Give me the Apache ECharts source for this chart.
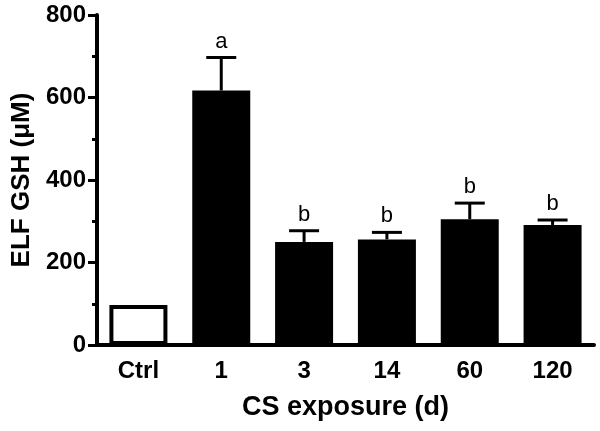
<!DOCTYPE html>
<html>
<head>
<meta charset="utf-8">
<script src="https://cdn.jsdelivr.net/npm/echarts@6/dist/echarts.min.js"></script>
<style>
  html, body { margin: 0; padding: 0; background: #fff; }
  #main { width: 600px; height: 431px; }
</style>
</head>
<body>
<div id="main"></div>
<script>
// data
var categories = ['Ctrl', '1', '3', '14', '60', '120'];
var gshMean = [97, 617, 250, 256, 305, 291];
var gshSem = [0, 80, 27, 17, 39, 12];
var letters = ['', 'a', 'b', 'b', 'b', 'b'];
var yTicks = [0, 200, 400, 600, 800];

var FONT = 'Liberation Sans, Arial, sans-serif';

var chart = echarts.init(document.getElementById('main'));

var barData = gshMean.map(function (v, i) {
  if (i === 0) {
    return { value: v, itemStyle: { color: '#fff', borderColor: '#000', borderWidth: 4 } };
  }
  return v;
});

var errData = gshMean.map(function (v, i) {
  return [i, v, v + gshSem[i]];
});

var option = {
  animation: false,
  grid: { left: 97, right: 6, top: 15, bottom: 86 },
  xAxis: {
    type: 'category',
    data: categories,
    name: 'CS exposure (d)',
    nameLocation: 'middle',
    nameGap: 49,
    nameTextStyle: { fontFamily: FONT, fontWeight: 'bold', fontSize: 27, color: '#000' },
    axisLine: { lineStyle: { color: '#000', width: 4 } },
    axisTick: { alignWithLabel: true, length: 8, lineStyle: { color: '#000', width: 3 } },
    axisLabel: { fontFamily: FONT, fontWeight: 'bold', fontSize: 24, color: '#000', margin: 14 }
  },
  yAxis: {
    type: 'value',
    min: yTicks[0],
    max: yTicks[yTicks.length - 1],
    interval: 200,
    name: 'ELF GSH (\u03bcM)',
    nameLocation: 'middle',
    nameGap: 60,
    nameTextStyle: { fontFamily: FONT, fontWeight: 'bold', fontSize: 26, color: '#000' },
    axisLine: { show: true, lineStyle: { color: '#000', width: 4 } },
    axisTick: { show: true, length: 9, lineStyle: { color: '#000', width: 3 } },
    minorTick: { show: true, splitNumber: 2, length: 5, lineStyle: { color: '#000', width: 3 } },
    splitLine: { show: false },
    axisLabel: { fontFamily: FONT, fontWeight: 'bold', fontSize: 24, color: '#000', margin: 11 }
  },
  series: [
    {
      type: 'bar',
      data: barData,
      barWidth: 58,
      itemStyle: { color: '#000' },
      z: 2
    },
    {
      type: 'custom',
      data: errData,
      z: 3,
      renderItem: function (params, api) {
        var i = api.value(0);
        var lo = api.coord([i, api.value(1)]);
        var hi = api.coord([i, api.value(2)]);
        var letter = letters[params.dataIndex];
        var children = [];
        if (gshSem[params.dataIndex] > 0) {
          children.push({
            type: 'line',
            shape: { x1: lo[0], y1: lo[1], x2: hi[0], y2: hi[1] },
            style: { stroke: '#000', lineWidth: 3 }
          });
          children.push({
            type: 'line',
            shape: { x1: hi[0] - 15, y1: hi[1], x2: hi[0] + 15, y2: hi[1] },
            style: { stroke: '#000', lineWidth: 3 }
          });
        }
        if (letter) {
          children.push({
            type: 'text',
            style: {
              x: hi[0], y: hi[1] - 5,
              text: letter,
              textAlign: 'center',
              textVerticalAlign: 'bottom',
              font: '22px ' + FONT,
              fill: '#000'
            }
          });
        }
        return { type: 'group', children: children };
      }
    }
  ]
};

chart.setOption(option);
</script>
</body>
</html>
